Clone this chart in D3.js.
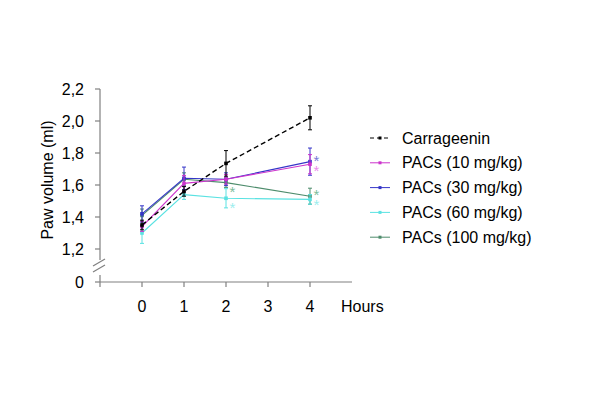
<!DOCTYPE html>
<html>
<head>
<meta charset="utf-8">
<script src="https://cdn.jsdelivr.net/npm/d3@7"></script>
<style>
  body { margin: 0; background: #fff; }
  svg { font-family: "Liberation Sans", Arial, sans-serif; }
</style>
</head>
<body>
<svg id="chart" width="600" height="400"></svg>
<script>
const hours = [0, 1, 2, 4];
const xTicks = [0, 1, 2, 3, 4];
const yTicks = [1.2, 1.4, 1.6, 1.8, 2.0, 2.2];

const seriesNames = ['Carrageenin', 'PACs (10 mg/kg)', 'PACs (30 mg/kg)', 'PACs (60 mg/kg)', 'PACs (100 mg/kg)'];
const seriesColors = ['#000000', '#cc33cc', '#3535c8', '#5ae2e2', '#4d8c6c'];
const starColors = ['#000000', '#ec8cec', '#7a7ad8', '#9ceeee', '#7cbc9a'];

const carrageenin = [1.35, 1.56, 1.735, 2.02];
const pacs10 = [1.34, 1.61, 1.636, 1.73];
const pacs30 = [1.42, 1.642, 1.636, 1.746];
const pacs60 = [1.30, 1.54, 1.517, 1.51];
const pacs100 = [1.41, 1.636, 1.615, 1.53];

const errCarr = [0.03, 0.03, 0.08, 0.075];
const err10 = [0.03, 0.05, 0.03, 0.06];
const err30 = [0.05, 0.07, 0.04, 0.085];
const err60 = [0.065, 0.03, 0.06, 0.03];
const err100 = [0.04, 0.04, 0.03, 0.05];

// significance stars: series index, hour, value where the star sits
const stars = [
  { s: 4, h: 2, v: 1.565 },
  { s: 3, h: 2, v: 1.465 },
  { s: 2, h: 4, v: 1.762 },
  { s: 1, h: 4, v: 1.70 },
  { s: 4, h: 4, v: 1.55 },
  { s: 3, h: 4, v: 1.487 }
];

const values = [carrageenin, pacs10, pacs30, pacs60, pacs100];
const errors = [errCarr, err10, err30, err60, err100];

const svg = d3.select('#chart');
const x = d3.scaleLinear().domain([-1, 5]).range([100, 352]);
const y = d3.scaleLinear().domain([1.2, 2.2]).range([249, 89]);
const yZero = 282;
const axisColor = '#808080';

// axes
const axisG = svg.append('g').attr('stroke', axisColor).attr('stroke-width', 1.2).attr('fill', 'none');
axisG.append('line').attr('x1', x(-1)).attr('x2', x(-1)).attr('y1', y(2.2)).attr('y2', 260);
axisG.append('line').attr('x1', x(-1)).attr('x2', x(-1)).attr('y1', 275).attr('y2', yZero + 5);
axisG.append('line').attr('x1', 93).attr('x2', 105).attr('y1', 266).attr('y2', 259);
axisG.append('line').attr('x1', 93).attr('x2', 105).attr('y1', 272).attr('y2', 265);
axisG.append('line').attr('x1', x(-1)).attr('x2', x(5)).attr('y1', yZero).attr('y2', yZero);

axisG.selectAll('.yt').data(yTicks).enter().append('line')
  .attr('x1', x(-1) - 5).attr('x2', x(-1)).attr('y1', d => y(d)).attr('y2', d => y(d));
axisG.append('line').attr('x1', x(-1) - 5).attr('x2', x(-1)).attr('y1', yZero).attr('y2', yZero);
axisG.selectAll('.xt').data(xTicks).enter().append('line')
  .attr('x1', d => x(d)).attr('x2', d => x(d)).attr('y1', yZero).attr('y2', yZero + 5);

const fmt = d => d3.format('.1f')(d).replace('.', ',');
svg.selectAll('.ytl').data(yTicks).enter().append('text')
  .attr('x', 84).attr('y', d => y(d)).attr('dy', '0.35em')
  .attr('text-anchor', 'end').attr('font-size', 16).text(fmt);
svg.append('text').attr('x', 84).attr('y', yZero).attr('dy', '0.35em')
  .attr('text-anchor', 'end').attr('font-size', 16).text('0');
svg.selectAll('.xtl').data(xTicks).enter().append('text')
  .attr('x', d => x(d)).attr('y', 312).attr('text-anchor', 'middle')
  .attr('font-size', 16).text(d => d);
svg.append('text').attr('x', 341).attr('y', 312).attr('font-size', 16).text('Hours');
svg.append('text').attr('transform', 'translate(53,180) rotate(-90)')
  .attr('text-anchor', 'middle').attr('font-size', 16).text('Paw volume (ml)');

// series, drawn back to front
const line = d3.line().x(d => x(d[0])).y(d => y(d[1]));
[4, 3, 2, 1, 0].forEach(i => {
  const pts = hours.map((h, j) => [h, values[i][j], errors[i][j]]);
  const g = svg.append('g');
  g.append('path').datum(pts).attr('d', line).attr('fill', 'none')
    .attr('stroke', seriesColors[i]).attr('stroke-width', i === 0 ? 1.4 : 1.1)
    .attr('stroke-dasharray', i === 0 ? '5,3' : null);
  const eb = g.selectAll('.eb').data(pts).enter().append('g')
    .attr('stroke', seriesColors[i]).attr('stroke-width', 1);
  eb.append('line').attr('x1', d => x(d[0])).attr('x2', d => x(d[0]))
    .attr('y1', d => y(d[1] - d[2])).attr('y2', d => y(d[1] + d[2]));
  eb.append('line').attr('x1', d => x(d[0]) - 2).attr('x2', d => x(d[0]) + 2)
    .attr('y1', d => y(d[1] - d[2])).attr('y2', d => y(d[1] - d[2]));
  eb.append('line').attr('x1', d => x(d[0]) - 2).attr('x2', d => x(d[0]) + 2)
    .attr('y1', d => y(d[1] + d[2])).attr('y2', d => y(d[1] + d[2]));
  g.selectAll('.pt').data(pts).enter().append('rect')
    .attr('x', d => x(d[0]) - 1.8).attr('y', d => y(d[1]) - 1.8)
    .attr('width', 3.6).attr('height', 3.6).attr('fill', seriesColors[i]);
});

svg.selectAll('.star').data(stars).enter().append('text')
  .attr('x', d => x(d.h) + 3.5).attr('y', d => y(d.v) + 6.5)
  .attr('font-size', 15).attr('fill', d => starColors[d.s]).text('*');

// legend
const leg = svg.append('g');
seriesNames.forEach((name, i) => {
  const ly = 138 + i * 24.8;
  leg.append('line').attr('x1', 370).attr('x2', 390).attr('y1', ly).attr('y2', ly)
    .attr('stroke', seriesColors[i]).attr('stroke-width', 1)
    .attr('stroke-dasharray', i === 0 ? '4,3' : null);
  leg.append('rect').attr('x', 378.5).attr('y', ly - 1.5).attr('width', 3).attr('height', 3)
    .attr('fill', seriesColors[i]);
  leg.append('text').attr('x', 402).attr('y', ly).attr('dy', '0.35em')
    .attr('font-size', 16).text(name);
});
</script>
</body>
</html>
